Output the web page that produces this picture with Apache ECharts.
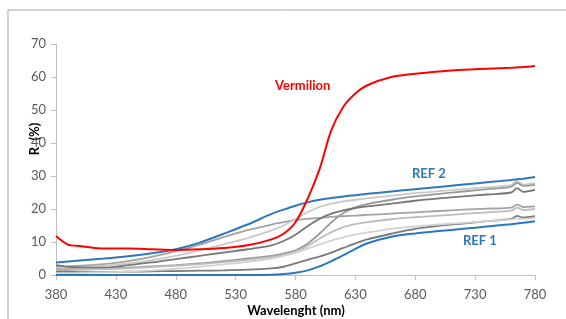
<!DOCTYPE html>
<html lang="en">
<head>
	<meta charset="UTF-8">
	<title></title>
	<style>html,body{margin:0;padding:0;background:#fff;}</style>
</head>
<body>
	<div id="spectra" style="width:566px;height:319px;"></div>
<script src="https://cdn.jsdelivr.net/npm/echarts@6/dist/echarts.min.js"></script>
<script>
var wavelengths = [380,390,400,420,440,460,480,500,520,540,560,570,580,590,600,610,620,630,640,660,680,700,720,740,760,765,770,780];

var vermilion = [11.8,9.2,8.8,8.0,8.0,7.8,7.6,7.8,8.2,9.0,10.8,12.5,16.0,23.0,32.0,44.0,51.0,55.0,57.5,60.0,61.0,61.7,62.2,62.5,62.8,62.9,63.0,63.3];
var ref2 = [3.8,4.1,4.4,5.0,5.7,6.6,7.8,9.8,12.5,15.3,18.5,19.8,21.0,22.0,22.8,23.3,23.8,24.2,24.6,25.3,26.0,26.7,27.4,28.1,28.8,29.0,29.2,29.7];
var ref1 = [0,0,0,0,0,0,0,0,0,0,0.1,0.3,0.7,1.4,2.6,4.2,6.0,7.9,9.6,11.6,12.6,13.3,14.0,14.7,15.4,15.6,15.8,16.3];

// grey samples
var grey1 = [2.5,2.6,2.8,3.3,4.2,5.5,7.2,9.2,11.5,13.6,15.3,16.0,16.6,17.0,17.3,17.6,17.8,18.0,18.2,18.6,19.0,19.4,19.8,20.1,20.4,21.3,20.6,20.8];
var grey2 = [2.0,2.0,2.2,2.8,3.5,4.5,5.8,7.5,9.3,11.2,13.5,15.0,17.0,19.0,20.6,21.6,22.3,22.8,23.2,24.0,24.8,25.4,26.0,26.6,27.2,28.5,27.4,27.8];
var grey3 = [1.8,1.7,1.7,1.9,2.2,2.6,3.0,3.5,4.2,5.0,5.8,6.5,7.5,9.5,12.5,16.0,18.8,20.5,21.5,22.8,23.8,24.6,25.3,26.0,26.7,27.9,27.0,27.3];
var grey4 = [3.0,2.5,2.3,2.2,3.0,3.8,4.8,5.8,6.8,7.8,9.0,10.3,12.2,14.8,17.0,18.6,19.6,20.3,20.8,21.6,22.5,23.2,23.8,24.4,25.0,26.3,25.2,25.8];
var grey5 = [1.5,1.5,1.6,1.8,2.0,2.4,2.8,3.3,3.9,4.6,5.4,6.0,7.0,8.8,11.0,13.0,14.5,15.4,16.0,16.9,17.5,18.0,18.5,19.0,19.5,20.4,19.7,20.0];
var grey6 = [1.0,1.0,0.9,0.9,1.0,1.1,1.2,1.3,1.4,1.6,2.0,2.5,3.5,4.6,5.6,6.8,8.2,9.6,10.8,12.5,14.0,14.9,15.6,16.3,17.0,17.9,17.4,17.8];
var grey7 = [0.5,0.5,0.6,0.8,1.0,1.4,1.9,2.5,3.2,4.0,5.0,5.8,6.8,8.0,9.2,10.4,11.4,12.2,12.9,14.0,14.7,15.3,15.8,16.3,16.8,17.1,17.0,17.3];

var greys = [grey1, grey2, grey3, grey4, grey5, grey6, grey7];
var greyColors = ['#a3a3a3','#c9c9c9','#9a9a9a','#777777','#bdbdbd','#7a7a7a','#d3d3d3'];

var xTicks = [380,780,50];
var yTicks = [0,70,10];

function pairs(vals){
  var out = [];
  for (var i = 0; i < wavelengths.length; i++) out.push([wavelengths[i], vals[i]]);
  return out;
}

function lineSeries(name, vals, color, width){
  return {
    name: name,
    type: 'line',
    data: pairs(vals),
    smooth: 0.3,
    showSymbol: false,
    silent: true,
    lineStyle: { color: color, width: width },
    z: 2
  };
}

var series = [];
for (var i = 0; i < greys.length; i++) {
  series.push(lineSeries('grey' + (i + 1), greys[i], greyColors[i], 1.8));
}
series.push(lineSeries('REF 1', ref1, '#2878c0', 2));
series.push(lineSeries('REF 2', ref2, '#2e77ba', 2));
series.push(lineSeries('Vermilion', vermilion, '#ff0000', 2));

var chart = echarts.init(document.getElementById('spectra'));
var axisText = { color: '#595959', fontSize: 13, fontFamily: 'Lato' };
var option = {
  animation: false,
  grid: { left: 56, right: 31, top: 44, bottom: 44, outerBoundsMode: 'none', containLabel: false },
  xAxis: {
    type: 'value',
    min: xTicks[0], max: xTicks[1], interval: xTicks[2],
    axisLine: { lineStyle: { color: '#bfbfbf' } },
    axisTick: { show: true, length: 5, lineStyle: { color: '#bfbfbf' } },
    axisLabel: Object.assign({ margin: 13 }, axisText),
    splitLine: { show: false }
  },
  yAxis: {
    type: 'value',
    min: yTicks[0], max: yTicks[1], interval: yTicks[2],
    axisLine: { show: true, lineStyle: { color: '#bfbfbf' } },
    axisTick: { show: true, length: 5, lineStyle: { color: '#bfbfbf' } },
    axisLabel: Object.assign({ margin: 10 }, axisText),
    splitLine: { show: false }
  },
  graphic: [
    { type: 'rect', silent: true, shape: { x: 8, y: 10, width: 600, height: 400 },
      style: { fill: 'none', stroke: '#a6a6a6', lineWidth: 1 } },
    { type: 'text', x: 35, y: 139, rotation: Math.PI / 2,
      style: { text: 'R  (%)', fill: '#000', font: 'bold 13px Lato', textAlign: 'center', textVerticalAlign: 'middle' } },
    { type: 'text', x: 296, y: 311,
      style: { text: 'Wavelenght (nm)', fill: '#000', font: 'bold 13px Lato', textAlign: 'center', textVerticalAlign: 'middle' } },
    { type: 'text', x: 275, y: 86,
      style: { text: 'Vermilion', fill: '#ff0000', font: 'bold 13px Lato', textVerticalAlign: 'middle' } },
    { type: 'text', x: 412, y: 174,
      style: { text: 'REF 2', fill: '#2e77ba', font: 'bold 13px Lato', textVerticalAlign: 'middle' } },
    { type: 'text', x: 463, y: 241,
      style: { text: 'REF 1', fill: '#2e77ba', font: 'bold 13px Lato', textVerticalAlign: 'middle' } }
  ],
  series: series
};
chart.setOption(option);
</script>
</body>
</html>
